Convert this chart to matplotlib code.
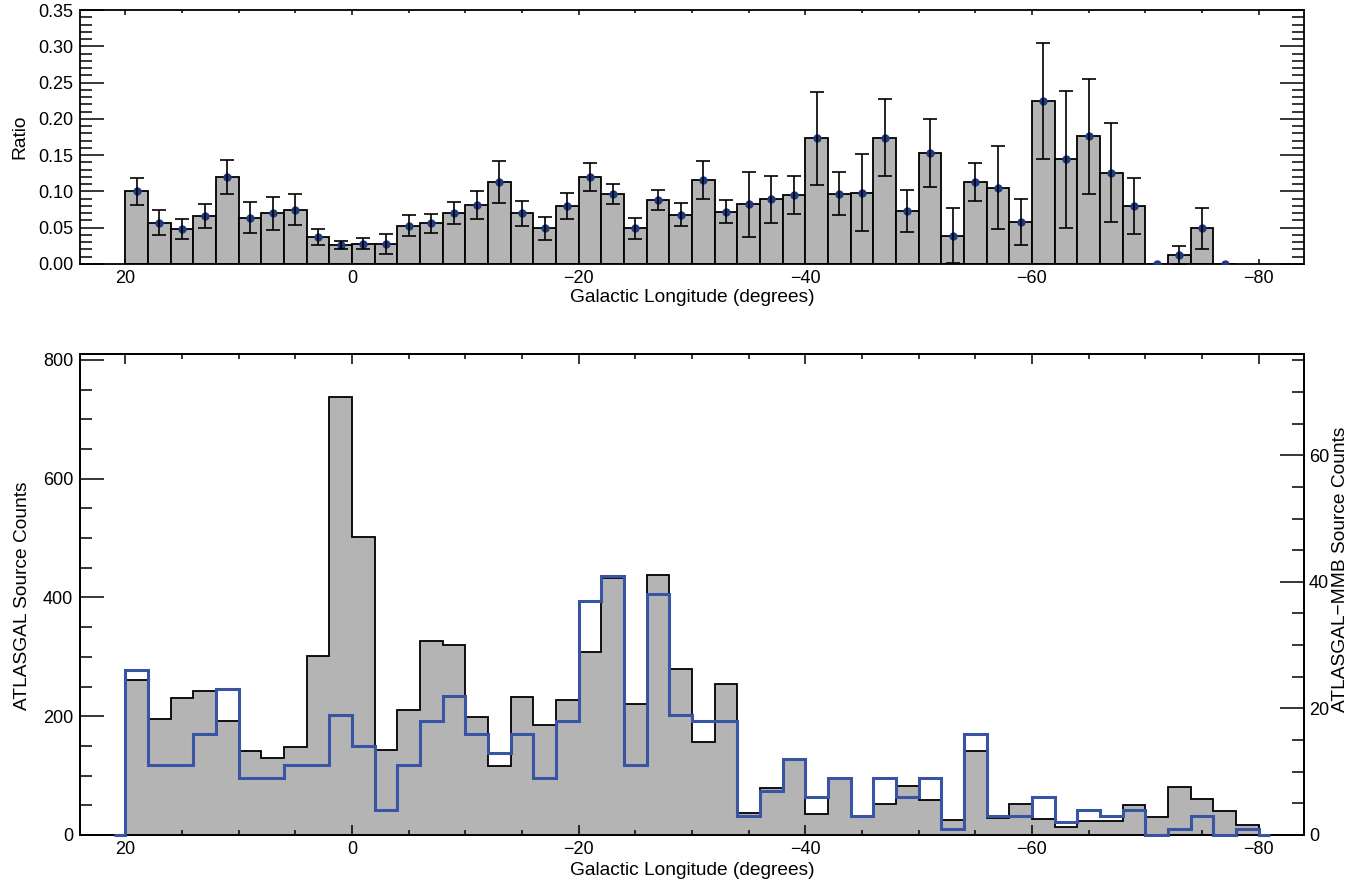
import numpy as np
import matplotlib
matplotlib.use("Agg")
import matplotlib.pyplot as plt
from matplotlib.ticker import MultipleLocator, FormatStrFormatter

plt.rcParams['font.family'] = ['Liberation Sans', 'DejaVu Sans']
plt.rcParams['font.size'] = 13
plt.rcParams['axes.labelsize'] = 13.8

# 2 degree bins in galactic longitude, from l=20 down to l=-80
lon_edges = np.arange(20, -82, -2)
lon_centers = lon_edges[:-1] - 1

# ATLASGAL clump counts per bin (left axis, bottom panel)
atlasgal_counts = [261, 195, 231, 243, 192, 142, 129, 149, 302, 738,
                   501, 143, 211, 326, 320, 199, 117, 232, 185, 227,
                   309, 432, 221, 438, 280, 156, 254, 37, 79, 128,
                   35, 94, 32, 52, 83, 59, 26, 142, 29, 52,
                   27, 14, 23, 24, 50, 30, 81, 61, 40, 16]

# ATLASGAL-MMB associations per bin (right axis, bottom panel)
mmb_counts = [26, 11, 11, 16, 23, 9, 9, 11, 11, 19,
              14, 4, 11, 18, 22, 16, 13, 16, 9, 18,
              37, 41, 11, 38, 19, 18, 18, 3, 7, 12,
              6, 9, 3, 9, 6, 9, 1, 16, 3, 3,
              6, 2, 4, 3, 4, 0, 1, 3, 0, 1]

# ratio MMB / ATLASGAL and its error (top panel, bins 19 .. -77)
ratio = [0.100, 0.057, 0.048, 0.066, 0.120, 0.064, 0.070, 0.075, 0.037, 0.026,
         0.028, 0.028, 0.053, 0.056, 0.070, 0.081, 0.113, 0.070, 0.049, 0.080,
         0.120, 0.096, 0.049, 0.088, 0.068, 0.116, 0.072, 0.082, 0.089, 0.095,
         0.173, 0.097, 0.098, 0.174, 0.073, 0.153, 0.039, 0.113, 0.105, 0.058,
         0.224, 0.144, 0.176, 0.126, 0.080, 0.000, 0.012, 0.049, 0.000]
ratio_err = [0.019, 0.017, 0.014, 0.016, 0.023, 0.021, 0.023, 0.021, 0.011, 0.006,
             0.0075, 0.014, 0.015, 0.013, 0.015, 0.019, 0.029, 0.017, 0.016, 0.018,
             0.019, 0.014, 0.014, 0.014, 0.016, 0.026, 0.016, 0.045, 0.032, 0.026,
             0.064, 0.030, 0.053, 0.053, 0.029, 0.047, 0.038, 0.026, 0.057, 0.032,
             0.080, 0.094, 0.079, 0.068, 0.038, 0.0, 0.0125, 0.028, 0.0]

GREY = '#b4b4b4'
BLUE = '#3a54a4'
DOT = '#1f3a84'

fig = plt.figure(figsize=(13.65, 8.85), dpi=100)
ax1 = fig.add_axes([0.0586, 0.7017, 0.8967, 0.2870])
ax2 = fig.add_axes([0.0586, 0.0565, 0.8967, 0.5435])

# ---------------- top panel: ratio ----------------
x_r = lon_centers[:len(ratio)]
r = np.array(ratio)
re = np.array(ratio_err)
ax1.bar(x_r, r, width=2, color=GREY, edgecolor='black', linewidth=1.3, zorder=2)
ax1.plot(x_r, r, 'o', color=DOT, ms=5, zorder=3)
has_err = re > 0
ax1.errorbar(x_r[has_err], r[has_err], yerr=re[has_err], fmt='none', ecolor='black',
             elinewidth=1.2, capsize=5, capthick=1.2, zorder=4)

ax1.set_xlim(24, -84)
ax1.set_ylim(0, 0.35)
ax1.xaxis.set_major_locator(MultipleLocator(20))
ax1.xaxis.set_minor_locator(MultipleLocator(5))
ax1.yaxis.set_major_locator(MultipleLocator(0.05))
ax1.yaxis.set_minor_locator(MultipleLocator(0.01))
ax1.yaxis.set_major_formatter(FormatStrFormatter('%.2f'))
ax1.tick_params(which='both', direction='in', top=True, right=True, width=1.1)
ax1.tick_params(axis='x', which='major', length=3.6, pad=4.5)
ax1.tick_params(axis='x', which='minor', length=1.8)
ax1.tick_params(axis='y', which='major', length=17, pad=5)
ax1.tick_params(axis='y', which='minor', length=8.5)
ax1.set_xlabel('Galactic Longitude (degrees)')
ax1.xaxis.set_label_coords(0.5, -0.100)
ax1.set_ylabel('Ratio')
ax1.yaxis.set_label_coords(-0.042, 0.5)

# ---------------- bottom panel: source counts ----------------
atl = np.array(atlasgal_counts)[::-1]
edges_up = lon_edges[::-1]
ax2.stairs(atl, edges_up, fill=True, facecolor=GREY, edgecolor='none')
ax2.stairs(atl, edges_up, edgecolor='black', linewidth=1.3)

ax3 = ax2.twinx()
mmb = np.r_[0, mmb_counts, 0][::-1]
mmb_edges = np.r_[lon_edges[0] + 1, lon_edges, lon_edges[-1] - 1][::-1]
ax3.stairs(mmb, mmb_edges, baseline=None, edgecolor=BLUE, linewidth=2.2,
           clip_on=False, zorder=5)

ax2.set_xlim(24, -84)
ax2.set_ylim(0, 810)
ax3.set_ylim(0, 76)
ax2.xaxis.set_major_locator(MultipleLocator(20))
ax2.xaxis.set_minor_locator(MultipleLocator(5))
ax2.yaxis.set_major_locator(MultipleLocator(200))
ax2.yaxis.set_minor_locator(MultipleLocator(50))
ax3.yaxis.set_major_locator(MultipleLocator(20))
ax3.yaxis.set_minor_locator(MultipleLocator(5))
ax2.tick_params(which='both', direction='in', top=True, right=False, width=1.1)
ax2.tick_params(axis='x', which='major', length=7, pad=4.5)
ax2.tick_params(axis='x', which='minor', length=3.5)
ax2.tick_params(axis='y', which='major', length=17, pad=5)
ax2.tick_params(axis='y', which='minor', length=8.5)
ax3.tick_params(which='both', direction='in', width=1.1)
ax3.tick_params(axis='y', which='major', length=17, pad=3.6)
ax3.tick_params(axis='y', which='minor', length=8.5)

ax2.set_xlabel('Galactic Longitude (degrees)')
ax2.xaxis.set_label_coords(0.5, -0.056)
ax2.set_ylabel('ATLASGAL Source Counts')
ax2.yaxis.set_label_coords(-0.040, 0.497)
ax3.set_ylabel('ATLASGAL\u2212MMB Source Counts')
ax3.yaxis.set_label_coords(1.0225, 0.553)

for ax in (ax1, ax2, ax3):
    for sp in ax.spines.values():
        sp.set_linewidth(1.3)

fig.savefig('out.png', dpi=100)
